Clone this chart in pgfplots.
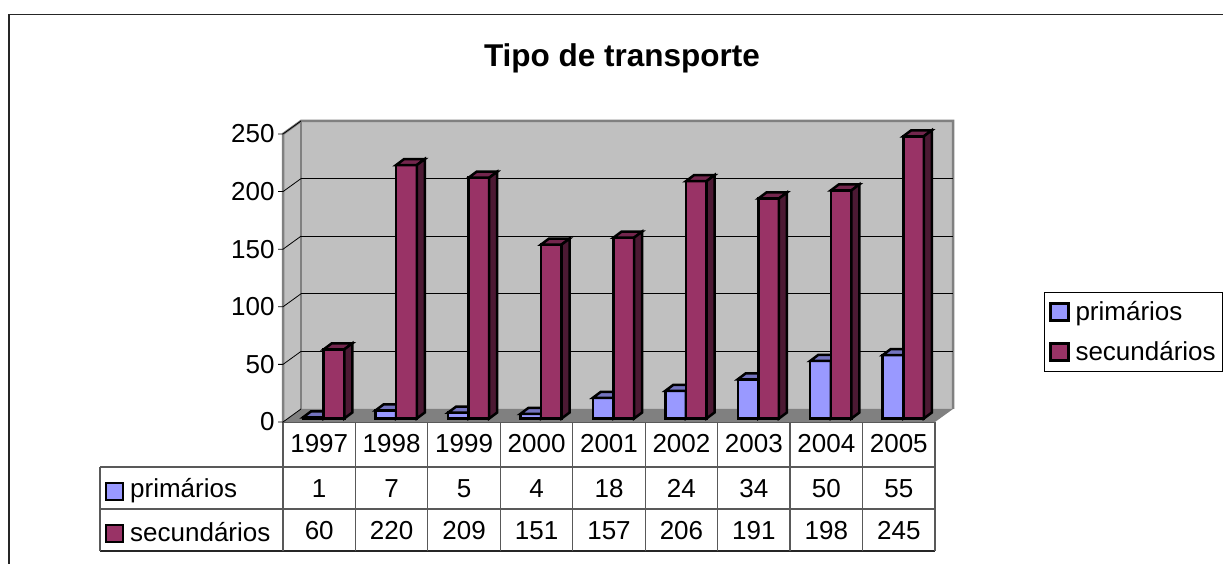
\documentclass[border=0pt]{standalone}
\usepackage{pgfplots}
\usepackage{pgfplotstable}
\usepackage{fontspec}
\setmainfont{Liberation Sans}
\pgfplotsset{compat=1.18}
\definecolor{wall}{HTML}{C0C0C0}
\definecolor{edge}{HTML}{808080}
\definecolor{prim}{HTML}{9999FF}
\definecolor{primtop}{HTML}{7373BF}
\definecolor{primdk}{HTML}{4C4C80}
\definecolor{sec}{HTML}{993366}
\definecolor{sectop}{HTML}{73264D}
\definecolor{secdk}{HTML}{4C1933}
\newcommand{\bigfont}{\fontsize{26}{30}\selectfont}
\pgfplotstableread{
x    year primarios secundarios
0.5  1997 1   60
1.5  1998 7   220
2.5  1999 5   209
3.5  2000 4   151
4.5  2001 18  157
5.5  2002 24  206
6.5  2003 34  191
7.5  2004 50  198
8.5  2005 55  245
}\data
% one bar in 3-D: front, top and side, drawn from the bar's top centre
\newcommand{\barthree}[3]{%
  \pgfmathsetlengthmacro{\hh}{\v*1.152pt}%
  \begin{scope}[line width=2.5pt,draw=black,line join=miter]
    \path[fill=#1,draw] (-10.3pt,0pt) rectangle (10.3pt,-\hh);
    \path[fill=#2,draw] (-10.3pt,0pt) -- (-2.3pt,6pt) -- (18.3pt,6pt) -- (10.3pt,0pt) -- cycle;
    \path[fill=#3,draw] (10.3pt,0pt) -- (18.3pt,6pt) -- (18.3pt,6pt-\hh) -- (10.3pt,-\hh) -- cycle;
  \end{scope}}
\pgfdeclareplotmark{barP}{\barthree{prim}{primtop}{primdk}}
\pgfdeclareplotmark{barS}{\barthree{sec}{sectop}{secdk}}
\begin{document}
\begin{tikzpicture}[x=1pt,y=1pt]
\useasboundingbox (0,0) rectangle (1223,564);
\draw[black!85,line width=1.6pt] (9,-5) -- (9,549.5) -- (1228,549.5);
% data table grid
\begin{scope}[black!65,line width=1.2pt]
  \draw (283,142) -- (935,142);
  \draw (100,97) -- (935,97);
  \draw (100,55) -- (935,55);
  \draw[black!85] (100,13) -- (935,13);
  \draw (100,97) -- (100,13);
  \foreach \i in {0,...,9} { \draw ({283+\i*72.44},142) -- ({283+\i*72.44},13); }
\end{scope}
\path[fill=prim,draw=black,line width=2.5pt] (106,81) rectangle (123,64);
\node[anchor=base west,inner sep=0pt,font=\bigfont] at (130,66) {primários};
\path[fill=sec,draw=black,line width=2.5pt] (106,39) rectangle (123,22);
\node[anchor=base west,inner sep=0pt,font=\bigfont] at (130,22.5) {secundários};
\begin{axis}[
  at={(283pt,142pt)},anchor=south west,
  scale only axis,width=652pt,height=288pt,
  xmin=0,xmax=9,ymin=0,ymax=250,
  clip=false,
  axis line style={draw=none},
  xtick={0.5,1.5,...,8.5},
  xticklabels={1997,1998,1999,2000,2001,2002,2003,2004,2005},
  ytick={0,50,...,250},
  tick style={draw=none},
  /pgf/number format/assume math mode=true,
  ticklabel style={font=\bigfont},
  xticklabel style={yshift=-9pt},
  yticklabel style={xshift=-5pt},
  title style={at={(0.5,1)},anchor=base,font=\bfseries\fontsize{31.5}{36}\selectfont,yshift=61pt,xshift=13pt},
  title={Tipo de transporte},
  legend style={at={(1.1672,0.4514)},anchor=north west,draw=black,line width=1pt,
    font=\bigfont,inner xsep=4.5pt,inner ysep=7pt,row sep=15.5pt,
    /tikz/every odd column/.append style={column sep=4pt},
    /tikz/every even column/.append style={column sep=7pt}},
  legend cell align=left,
]
% chart walls
\fill[wall] (axis cs:0,0) -- (axis cs:0,250) -- ++(18pt,13pt) -- ++(652pt,0pt) -- ++(0pt,-288pt) -- ++(-652pt,0pt) -- cycle;
\fill[edge] (axis cs:0,0) -- (axis cs:9,0) -- ++(18pt,13pt) -- ++(-652pt,0pt) -- cycle;
\draw[edge,line width=2.5pt] (axis cs:0,0) -- (axis cs:0,250) -- ++(18pt,13pt) -- ++(652pt,0pt) -- ++(0pt,-288pt);
\draw[edge,line width=2.5pt] (axis cs:0,250) ++(18pt,13pt) -- ++(0pt,-288pt);
\pgfplotsinvokeforeach{0,50,100,150,200,250}{
  \draw[black,line width=0.8pt] (axis cs:0,#1) ++(-5pt,0pt) -- ++(5pt,0pt) -- ++(18pt,13pt);
}
\pgfplotsinvokeforeach{50,100,150,200}{
  \draw[black,line width=0.8pt] (axis cs:0,#1) ++(18pt,13pt) -- ++(652pt,0pt);
}
\addlegendimage{legend image code/.code={\path[fill=prim,draw=black,line width=2.5pt] (-1pt,-8.5pt) rectangle (17pt,8.5pt);}}
\addlegendentry{primários}
\addlegendimage{legend image code/.code={\path[fill=sec,draw=black,line width=2.5pt] (-1pt,-8.5pt) rectangle (17pt,8.5pt);}}
\addlegendentry{secundários}
\addplot[forget plot,only marks,mark=barP,xshift=-5.8pt,yshift=3.5pt,
  visualization depends on={\thisrow{primarios}\as\v}] table[x=x,y=primarios]{\data};
\addplot[forget plot,only marks,mark=barS,xshift=14.8pt,yshift=3.5pt,
  visualization depends on={\thisrow{secundarios}\as\v}] table[x=x,y=secundarios]{\data};
\addplot[forget plot,draw=none,mark=none,point meta=explicit symbolic,nodes near coords,
  every node near coord/.append style={anchor=center,font=\bigfont}]
  table[x=x,y expr=-57.5,meta=primarios]{\data};
\addplot[forget plot,draw=none,mark=none,point meta=explicit symbolic,nodes near coords,
  every node near coord/.append style={anchor=center,font=\bigfont}]
  table[x=x,y expr=-94,meta=secundarios]{\data};
\end{axis}
\end{tikzpicture}
\end{document}
